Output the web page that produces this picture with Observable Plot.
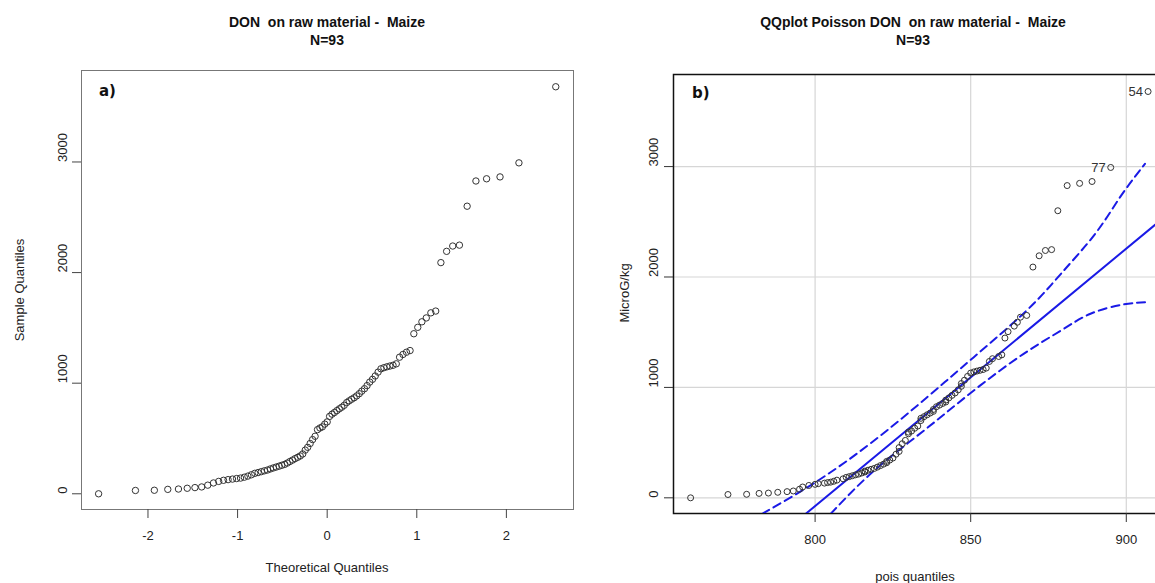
<!DOCTYPE html>
<html><head><meta charset="utf-8">
<script src="https://cdn.jsdelivr.net/npm/d3@7"></script>
<script src="https://cdn.jsdelivr.net/npm/@observablehq/plot@0.6"></script>
<style>
html,body{margin:0;padding:0;background:#fff;overflow:hidden}
#wrap{position:relative;width:1155px;height:583px;overflow:hidden;font-family:"Liberation Sans",Arial,sans-serif;color:#111}
.t{position:absolute;font-weight:bold;font-size:14px;text-align:center;line-height:18px;white-space:pre;transform:translateX(-50%)}
.lab{position:absolute;font-size:13px;color:#222;white-space:nowrap;transform:translate(-50%,-50%)}
.rot{transform:translate(-50%,-50%) rotate(-90deg)}
.tag{position:absolute;font-family:"DejaVu Sans",sans-serif;font-weight:bold;font-size:15px;color:#111}
#pa,#pb{position:absolute;top:0;width:580px;height:583px}
#pa svg,#pb svg{max-width:none !important;display:block}
</style></head><body><div id="wrap">
<div class="t" style="left:327px;top:13px">DON  on raw material -  Maize
N=93</div>
<div class="t" style="left:913px;top:13px">QQplot Poisson DON  on raw material -  Maize
N=93</div>
<div class="lab" style="left:327px;top:567px">Theoretical Quantiles</div>
<div class="lab rot" style="left:19px;top:290px">Sample Quantiles</div>
<div class="lab" style="left:915px;top:576px">pois quantiles</div>
<div class="lab rot" style="left:624px;top:293px">MicroG/kg</div>
<div id="pa" style="left:0px"></div><div id="pb" style="left:590px"></div>
<div class="tag" style="left:99px;top:82px">a)</div>
<div class="tag" style="left:692px;top:84px">b)</div>
</div>
<script>
// theoretical normal quantiles (x of panel a)
const normalQuantiles = [-2.551,-2.140,-1.929,-1.779,-1.660,-1.562,-1.476,-1.401,-1.333,-1.269,
 -1.211,-1.157,-1.106,-1.057,-1.011,-0.967,-0.925,-0.885,-0.846,-0.808,
 -0.771,-0.735,-0.700,-0.666,-0.633,-0.600,-0.568,-0.536,-0.506,-0.475,
 -0.445,-0.416,-0.386,-0.358,-0.329,-0.301,-0.273,-0.245,-0.218,-0.190,
 -0.163,-0.135,-0.108,-0.081,-0.054,-0.027,0,0.027,0.054,0.081,
 0.108,0.135,0.163,0.190,0.218,0.245,0.273,0.301,0.329,0.358,
 0.386,0.416,0.445,0.475,0.506,0.536,0.568,0.600,0.633,0.666,
 0.700,0.735,0.771,0.808,0.846,0.885,0.925,0.967,1.011,1.057,
 1.106,1.157,1.211,1.269,1.333,1.401,1.476,1.562,1.660,1.779,
 1.929,2.140,2.551];
// theoretical Poisson quantiles (x of panel b)
const poissonQuantiles = [760,772,778,782,785,788,791,793,795,796,
 798,800,801,803,804,805,806,807,809,810,
 811,812,813,814,815,816,816,817,818,819,
 820,821,822,823,823,824,825,826,827,827,
 828,829,830,830,831,832,833,834,834,835,
 836,837,838,838,839,840,841,842,842,843,
 844,845,846,847,847,848,849,850,851,852,
 853,854,855,856,857,859,860,861,862,864,
 865,866,868,870,872,874,876,878,881,885,
 889,895,907];
// sorted DON values (MicroG/kg)
const donValues = [0,30,32,40,43,50,56,62,78,98,
 112,122,128,133,138,142,150,160,172,185,
 192,200,208,215,225,234,242,250,258,266,
 278,292,305,318,330,342,360,395,420,455,
 490,520,580,595,605,630,650,700,720,735,
 752,768,783,800,825,840,855,868,885,905,
 928,950,978,1010,1035,1065,1100,1130,1140,1148,
 1155,1162,1175,1235,1260,1280,1295,1447,1505,1555,
 1590,1636,1652,2090,2192,2240,2248,2600,2828,2848,
 2865,2992,3680];
const labelRanks = [93, 92];
const labelTexts = ["54", "77"];
const xTicksA = [-2, -1, 0, 1, 2];
const xTicksB = [800, 850, 900];
const yTicks = [0, 1000, 2000, 3000];
// reference line (quartile fit) endpoints
const refLineX = [790, 915];
const refLineY = [-308, 2607];
// pointwise confidence envelope
const upperX = [783, 801, 819, 836, 851, 868, 879, 890, 898, 906];
const upperY = [-145, 157, 519, 911, 1274, 1697, 2029, 2391, 2723, 3025];
const lowerX = [805, 819, 835, 851, 867, 879, 888.5, 899, 907];
const lowerY = [-145, 247, 610, 972, 1304, 1515, 1667, 1751, 1772];

const ptsA = normalQuantiles.map((z, i) => ({x: z, y: donValues[i]}));
const ptsB = poissonQuantiles.map((q, i) => ({x: q, y: donValues[i]}));
const labs = labelRanks.map((r, k) => ({x: poissonQuantiles[r - 1], y: donValues[r - 1], t: labelTexts[k]}));
const refLine = refLineX.map((x, i) => ({x, y: refLineY[i]}));
const upper = upperX.map((x, i) => ({x, y: upperY[i]}));
const lower = lowerX.map((x, i) => ({x, y: lowerY[i]}));
const font = {fontFamily: "Liberation Sans, Arial, sans-serif", fontSize: "13px", background: "transparent", color: "#222", maxWidth: "none"};

const a = Plot.plot({
  width: 580, height: 583, marginLeft: 81, marginRight: 7, marginTop: 70, marginBottom: 74,
  style: font,
  x: {domain: [-2.742, 2.749]},
  y: {domain: [-142, 3827]},
  marks: [
    Plot.frame({stroke: "#777"}),
    Plot.axisX({ticks: xTicksA, tickSize: 9, tickPadding: 12, tickFormat: d => String(d), label: null, stroke: "#444"}),
    Plot.axisY({ticks: yTicks, tickSize: 9, tickFormat: () => "", label: null, stroke: "#444"}),
    Plot.text(yTicks, {y: d => d, frameAnchor: "left", dx: -19, rotate: -90, text: d => String(d), fill: "#222"}),
    Plot.dot(ptsA, {x: "x", y: "y", r: 3.2, stroke: "#333", strokeWidth: 1, fill: "none"})
  ]
});
document.getElementById("pa").append(a);

const b = Plot.plot({
  width: 580, height: 583, marginLeft: 83, marginRight: 5, marginTop: 74, marginBottom: 70,
  style: font,
  x: {domain: [754.5, 912.6]},
  y: {domain: [-142, 3834]},
  marks: [
    Plot.gridX(xTicksB, {stroke: "#d6d6d6", strokeOpacity: 1, strokeWidth: 1.2}),
    Plot.gridY(yTicks, {stroke: "#d6d6d6", strokeOpacity: 1, strokeWidth: 1.2}),
    Plot.frame({stroke: "#111", strokeWidth: 1.5}),
    Plot.axisX({ticks: xTicksB, tickSize: 9, tickPadding: 12, tickFormat: d => String(d), label: null, stroke: "#333"}),
    Plot.axisY({ticks: yTicks, tickSize: 9, tickFormat: () => "", label: null, stroke: "#333"}),
    Plot.text(yTicks, {y: d => d, frameAnchor: "left", dx: -20, rotate: -90, text: d => String(d), fill: "#222"}),
    Plot.line(refLine, {x: "x", y: "y", stroke: "#1a1ae6", strokeWidth: 2, clip: true}),
    Plot.line(upper, {x: "x", y: "y", stroke: "#1a1ae6", strokeWidth: 2, strokeDasharray: "8,5", curve: "natural", clip: true}),
    Plot.line(lower, {x: "x", y: "y", stroke: "#1a1ae6", strokeWidth: 2, strokeDasharray: "8,5", curve: "natural", clip: true}),
    Plot.dot(ptsB, {x: "x", y: "y", r: 3, stroke: "#333", strokeWidth: 1, fill: "none"}),
    Plot.text(labs, {x: "x", y: "y", text: "t", dx: -5, textAnchor: "end", fill: "#333", fontSize: 13})
  ]
});
document.getElementById("pb").append(b);
</script>
</body></html>
